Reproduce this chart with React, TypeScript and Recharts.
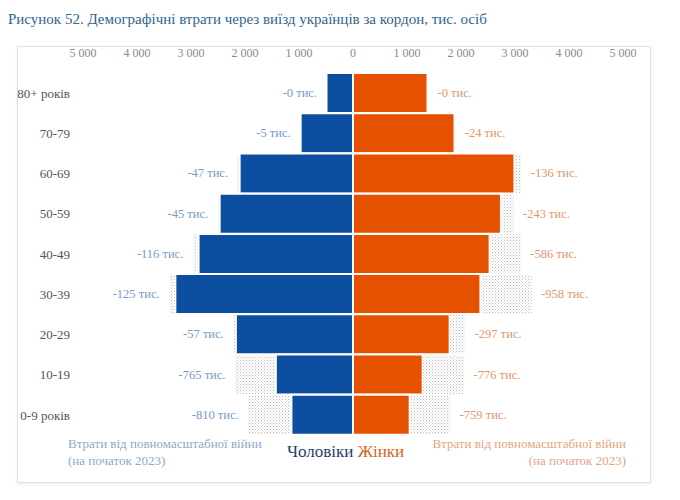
import React from 'react';
import { BarChart, Bar, XAxis, YAxis, LabelList } from 'recharts';

const ages = ['80+ років', '70-79', '60-69', '50-59', '40-49', '30-39', '20-29', '10-19', '0-9 років'];
const menPopulation = [500, 970, 2100, 2470, 2860, 3290, 2170, 1430, 1140];
const menLosses = [0, 5, 47, 45, 116, 125, 57, 765, 810];
const womenPopulation = [1380, 1880, 2990, 2740, 2530, 2360, 1790, 1290, 1050];
const womenLosses = [0, 24, 136, 243, 586, 958, 297, 776, 759];
const xTicks = [-5000, -4000, -3000, -2000, -1000, 0, 1000, 2000, 3000, 4000, 5000];

const data = ages.map((age, i) => ({
  age,
  men: -menPopulation[i],
  menLoss: -menLosses[i],
  women: womenPopulation[i],
  womenLoss: womenLosses[i],
  menLossLabel: menLosses[i],
  womenLossLabel: womenLosses[i],
}));

const FONT = '"Liberation Serif", "DejaVu Serif", serif';
const BLUE = '#0c4fa0';
const ORANGE = '#e65100';

const fmtTick = (v: number) => {
  const a = Math.abs(v);
  if (a < 1000) return String(a);
  return `${Math.floor(a / 1000)} ${String(a % 1000).padStart(3, '0')}`;
};

const MenLabel = (props: any) => {
  const { x, y, width, height, value } = props;
  const left = Math.min(Number(x), Number(x) + Number(width));
  return (
    <text x={left - 9} y={Number(y) + Number(height) / 2} textAnchor="end" dominantBaseline="central"
      fill="#779bc8" fontSize={12.5} fontFamily={FONT}>
      {`-${value} тис.`}
    </text>
  );
};

const WomenLabel = (props: any) => {
  const { x, y, width, height, value } = props;
  const right = Math.max(Number(x), Number(x) + Number(width));
  return (
    <text x={right + 9} y={Number(y) + Number(height) / 2} textAnchor="start" dominantBaseline="central"
      fill="#e2976b" fontSize={12.5} fontFamily={FONT}>
      {`-${value} тис.`}
    </text>
  );
};

export default function App() {
  return (
    <div style={{ position: 'absolute', left: 0, top: 0, width: 680, height: 500, background: '#fff', fontFamily: FONT }}>
      <div style={{ position: 'absolute', left: 8, top: 11, fontSize: 15, color: '#2d6590', whiteSpace: 'nowrap' }}>
        Рисунок 52. Демографічні втрати через виїзд українців за кордон, тис. осіб
      </div>
      <div style={{ position: 'absolute', left: 17, top: 46, width: 632, height: 435, border: '1px solid #e2e2e2', boxShadow: '0 1px 3px rgba(0,0,0,0.08)' }} />
      <div style={{ position: 'absolute', left: 0, top: 0 }}>
        <BarChart width={680} height={500} data={data} layout="vertical" barCategoryGap={0}
          margin={{ top: 43, right: 57, bottom: 65, left: 0 }}>
          <defs>
            <pattern id="dots" width="3" height="3" patternUnits="userSpaceOnUse">
              <rect width="3" height="3" fill="#ffffff" />
              <rect x="0" y="0" width="1" height="1" fill="#b9b9b9" />
              <rect x="1.5" y="1.5" width="1" height="1" fill="#d0d0d0" />
            </pattern>
          </defs>
          <XAxis type="number" orientation="top" domain={[-5000, 5000]} ticks={xTicks} height={30}
            tickFormatter={fmtTick} axisLine={false} tickLine={false} tickSize={0} tickMargin={16}
            tick={{ fill: '#8a8a8a', fontSize: 12, fontFamily: FONT }} interval={0} />
          <YAxis yAxisId="m" type="category" dataKey="age" width={83} axisLine={false} tickLine={false}
            tickSize={0} tickMargin={13} tick={{ fill: '#555', fontSize: 13, fontFamily: FONT }} interval={0} />
          <YAxis yAxisId="w" type="category" dataKey="age" hide />
          <Bar yAxisId="m" dataKey="men" stackId="m" fill={BLUE} stroke="#fff" strokeWidth={2} isAnimationActive={false} />
          <Bar yAxisId="m" dataKey="menLoss" stackId="m" fill="url(#dots)" stroke="#fff" strokeWidth={1}
            minPointSize={1} isAnimationActive={false}>
            <LabelList dataKey="menLossLabel" content={MenLabel} />
          </Bar>
          <Bar yAxisId="w" dataKey="women" stackId="w" fill={ORANGE} stroke="#fff" strokeWidth={2} isAnimationActive={false} />
          <Bar yAxisId="w" dataKey="womenLoss" stackId="w" fill="url(#dots)" stroke="#fff" strokeWidth={1}
            minPointSize={1} isAnimationActive={false}>
            <LabelList dataKey="womenLossLabel" content={WomenLabel} />
          </Bar>
        </BarChart>
      </div>
      <div style={{ position: 'absolute', left: 68, top: 435, fontSize: 13, lineHeight: '17px', color: '#8ea9c9', whiteSpace: 'nowrap' }}>
        Втрати від повномасштабної війни<br />(на початок 2023)
      </div>
      <div style={{ position: 'absolute', right: 680 - 626, top: 435, fontSize: 13, lineHeight: '17px', color: '#e6a47f', whiteSpace: 'nowrap', textAlign: 'right' }}>
        Втрати від повномасштабної війни<br />(на початок 2023)
      </div>
      <div style={{ position: 'absolute', left: 287, top: 441, fontSize: 17, lineHeight: '22px', whiteSpace: 'nowrap' }}>
        <span style={{ color: '#1e3d6e' }}>Чоловіки</span> <span style={{ color: '#d9621c' }}>Жінки</span>
      </div>
    </div>
  );
}
